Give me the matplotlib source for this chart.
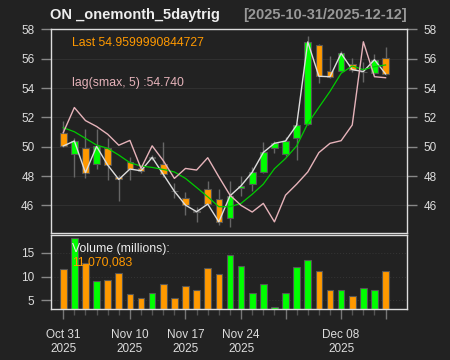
import numpy as np
import matplotlib
matplotlib.use('Agg')
import matplotlib.pyplot as plt

plt.rcParams['font.family'] = ['Liberation Sans', 'DejaVu Sans']

# daily OHLC (30 sessions, 2025-10-31 .. 2025-12-12)
opens = [50.95, 49.48, 49.89, 48.80, 49.89, 47.93, 48.95, 48.52, 49.25, 48.82,
         47.00, 46.48, 45.60, 47.09, 46.43, 45.16, 47.18, 47.43, 48.25, 49.89,
         49.48, 50.57, 51.54, 56.95, 55.14, 55.18, 55.63, 55.10, 55.02, 56.02]
highs = [51.75, 50.57, 51.18, 51.18, 50.57, 48.07, 49.32, 48.64, 49.45, 50.34,
         47.50, 46.93, 45.91, 47.66, 47.09, 47.66, 48.00, 48.63, 50.34, 50.41,
         50.68, 51.60, 57.56, 57.00, 56.20, 56.54, 56.02, 55.75, 56.32, 56.77]
lows = [49.95, 47.95, 47.84, 48.45, 47.73, 46.28, 47.73, 48.18, 49.10, 47.96,
        46.48, 45.34, 44.88, 46.00, 44.66, 44.54, 46.64, 47.00, 48.20, 49.55,
        49.38, 49.09, 51.50, 54.34, 54.70, 55.10, 55.10, 54.39, 54.95, 54.90]
closes = [50.05, 50.39, 48.23, 50.02, 48.75, 47.77, 48.48, 48.36, 49.27, 48.12,
          46.96, 46.02, 45.57, 46.09, 44.88, 46.65, 47.34, 48.26, 49.61, 50.23,
          50.39, 51.47, 57.14, 54.80, 54.77, 56.36, 55.25, 55.12, 55.93, 54.96]
volume = [11.67, 18.13, 12.78, 8.96, 9.24, 10.83, 6.25, 5.56, 6.53, 8.33,
          5.56, 7.99, 7.15, 11.88, 10.42, 14.44, 12.22, 6.46, 8.33, 3.68,
          6.46, 12.01, 13.54, 11.18, 7.22, 7.22, 5.90, 7.50, 7.08, 11.07]
sma = [51.30, 51.02, 50.57, 50.11, 49.89, 49.43, 48.91, 48.68, 48.59, 48.45,
       48.28, 47.84, 47.22, 46.59, 45.91, 45.91, 46.14, 46.76, 47.45, 48.50,
       49.20, 50.05, 51.58, 52.68, 53.77, 55.00, 55.50, 55.25, 55.45, 55.57]
lag_smax = [50.95, 52.67, 51.78, 51.38, 50.85, 50.10, 50.43, 48.52, 50.06, 49.05,
            47.84, 48.52, 48.41, 49.25, 47.95, 46.70, 46.00, 45.55, 46.14, 44.88,
            46.70, 47.45, 48.28, 49.60, 50.23, 50.41, 51.48, 57.15, 54.77, 54.70]

tick_idx = [0, 6, 11, 16, 20, 25, 29]
tick_text = ['Oct 31\n2025', 'Nov 10\n2025', 'Nov 17\n2025', 'Nov 24\n2025', '',
             'Dec 08\n2025', '']

bg = '#222222'
up_col = '#00FF00'
dn_col = '#FF9900'
pink = '#E6B3BA'
W, H = 450, 360

x = np.arange(len(closes))
o = np.array(opens)
c = np.array(closes)
colors = [up_col if cc > oo else dn_col for oo, cc in zip(o, c)]

fig = plt.figure(figsize=(4.5, 3.6), dpi=100, facecolor=bg)
ax = fig.add_axes([51/W, 1-233.3/H, (406.7-51)/W, (233.3-29.3)/H])
axv = fig.add_axes([51/W, 1-309.3/H, (406.7-51)/W, (309.3-235)/H])

for a in (ax, axv):
    a.set_facecolor(bg)
    for s in a.spines.values():
        s.set_color('#DDDDDD')
        s.set_linewidth(1.0)
    a.set_xlim(-1.1, 30.9)

# price panel
for yv in range(46, 59, 2):
    ax.axhline(yv, color='#303030', lw=0.8, zorder=0)
ax.vlines(x, lows, highs, color='#666666', lw=1, zorder=1)
ax.bar(x, np.maximum(np.abs(c-o), 0.02), bottom=np.minimum(o, c), width=0.6,
       color=colors, edgecolor='#555555', lw=0.8, zorder=2)
ax.plot(x, closes, color='#DDDDDD', lw=1, zorder=3)
ax.plot(x, sma, color='#00CC00', lw=0.9, zorder=3)
ax.plot(x, lag_smax, color=pink, lw=1, zorder=3)
ax.set_ylim(44.1, 58.0)
ax.set_yticks(range(46, 59, 2))
ax.tick_params(axis='y', left=True, right=True, labelleft=True, labelright=True,
               length=7, width=1, color='#888888', labelcolor='#DDDDDD',
               labelsize=8.5, pad=5)
ax.set_xticks([])

# volume panel
vfloor = 3.125
for yv in (5, 10, 15):
    axv.axhline(yv, color='#333333', lw=0.8, ls=':', zorder=0)
axv.bar(x, np.array(volume) - vfloor, bottom=vfloor, width=0.6, color=colors,
        edgecolor='#555555', lw=0.8, zorder=2)
axv.set_ylim(vfloor, 18.7)
axv.set_yticks([5, 10, 15])
axv.tick_params(axis='y', length=7, width=1, color='#888888',
                labelcolor='#DDDDDD', labelsize=8.5, pad=5)
axv.set_xticks(tick_idx)
axv.set_xticklabels(tick_text)
axv.set_xticks([i for i in x if i not in tick_idx], minor=True)
axv.tick_params(axis='x', which='major', length=7, width=1, color='#777777',
                labelcolor='#DDDDDD', labelsize=8.5, pad=7)
axv.tick_params(axis='x', which='minor', length=4, width=1, color='#555555')

# texts
fig.text(50/W, 1-15/H, 'ON _onemonth_5daytrig', color='#EEEEEE', fontsize=10.5,
         fontweight='bold', ha='left', va='center')
fig.text(406.7/W, 1-15/H, '[2025-10-31/2025-12-12]', color='#999999',
         fontsize=10.5, fontweight='bold', ha='right', va='center')
fig.text(72.3/W, 1-42.7/H, 'Last 54.9599990844727', color=dn_col, fontsize=8.8,
         ha='left', va='center')
fig.text(72.3/W, 1-83.3/H, 'lag(smax, 5) :54.740', color=pink, fontsize=8.8,
         ha='left', va='center')
fig.text(72.3/W, 1-249/H, 'Volume (millions):', color='#EEEEEE', fontsize=8.8,
         ha='left', va='center')
fig.text(72.3/W, 1-262.7/H, '11,070,083', color=dn_col, fontsize=8.8,
         ha='left', va='center')

fig.savefig('out.png', dpi=100, facecolor=bg)
